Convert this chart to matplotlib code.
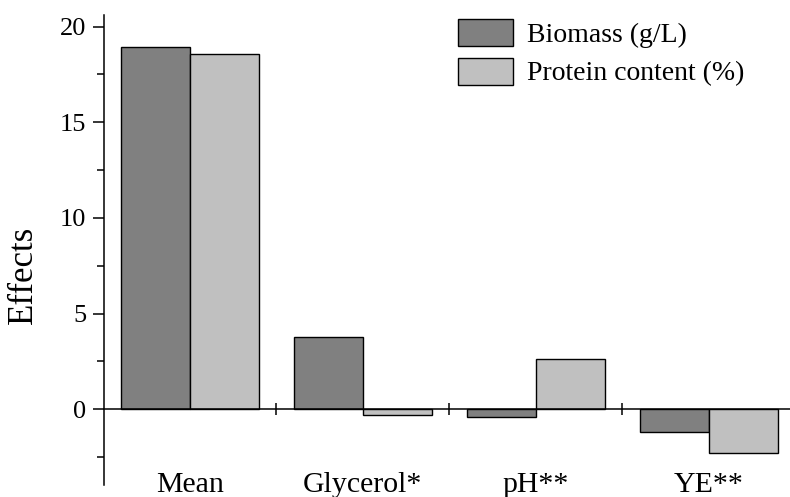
import numpy as np
import matplotlib
matplotlib.use("Agg")
import matplotlib.pyplot as plt
from matplotlib.ticker import MultipleLocator

plt.rcParams['font.family'] = ['Liberation Serif', 'DejaVu Serif']

# data
categories = ['Mean', 'Glycerol*', 'pH**', 'YE**']
biomass = [18.96, 3.77, -0.39, -1.19]
protein = [18.58, -0.28, 2.65, -2.27]
series_names = ['Biomass (g/L)', 'Protein content (%)']

fig = plt.figure(figsize=(7.9, 4.97), dpi=100)
ax = fig.add_axes([103.5 / 790, 12 / 497, 1 - 103.5 / 790, 470 / 497])

x = np.arange(len(categories))
w = 0.4
ax.bar(x - w / 2, biomass, w, color='#808080', edgecolor='black', linewidth=1.0,
       label=series_names[0], zorder=2)
ax.bar(x + w / 2, protein, w, color='#c0c0c0', edgecolor='black', linewidth=1.0,
       label=series_names[1], zorder=2)

ax.set_xlim(-0.5, 3.47)
ax.set_ylim(-3.96, 20.61)

# axes styling
ax.spines['top'].set_visible(False)
ax.spines['right'].set_visible(False)
ax.spines['bottom'].set_position(('data', 0))
ax.spines['left'].set_linewidth(1.1)
ax.spines['bottom'].set_linewidth(1.1)
ax.spines['bottom'].set_zorder(3)

ax.yaxis.set_major_locator(MultipleLocator(5))
ax.yaxis.set_minor_locator(MultipleLocator(2.5))
ax.tick_params(axis='y', which='major', direction='out', length=8, width=1.1,
               labelsize=19, pad=4.5)
ax.tick_params(axis='y', which='minor', direction='out', length=5, width=1.1)

# group separators on the zero line, category names below
ax.set_xticks(x[:-1] + 0.5)
ax.set_xticklabels([])
ax.tick_params(axis='x', which='major', direction='inout', length=8.5, width=1.1)
ax.set_xticks(x, minor=True)
ax.set_xticklabels(categories, minor=True)
ax.tick_params(axis='x', which='minor', length=0, labelsize=21.5, pad=45)

fig.text(23 / 790, 1 - 275 / 497, 'Effects', rotation=90, fontsize=25,
         ha='center', va='center')

ax.legend(loc='upper left', bbox_to_anchor=(458 / 790, 1 - 19 / 497),
          bbox_transform=fig.transFigure, frameon=False, fontsize=20,
          borderpad=0, borderaxespad=0, handlelength=1.98, handleheight=1.12,
          handletextpad=0.5, labelspacing=0.35)

fig.savefig('out.png', dpi=100)
